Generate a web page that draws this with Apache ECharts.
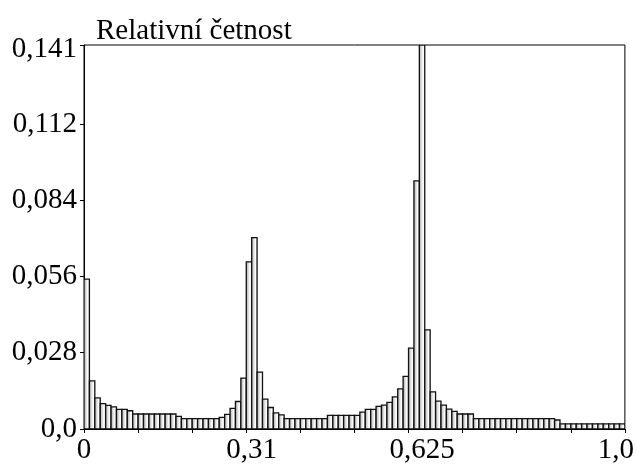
<!DOCTYPE html>
<html><head><meta charset="utf-8">
<style>html,body{margin:0;padding:0;background:#fff}#c{width:637px;height:465px}</style>
<script src="https://cdn.jsdelivr.net/npm/echarts@6/dist/echarts.min.js"></script>
</head><body><div id="c"></div>
<script>
// Relative frequency per bin (100 bins of width 0.01 on [0,1])
const binWidth = 0.01;
const relFreq = [
  0.0550, 0.0177, 0.0114, 0.0093, 0.0087, 0.0081, 0.0072, 0.0072, 0.0067, 0.0055,
  0.0055, 0.0055, 0.0055, 0.0055, 0.0055, 0.0055, 0.0055, 0.0046, 0.0038, 0.0038,
  0.0038, 0.0038, 0.0038, 0.0038, 0.0038, 0.0043, 0.0054, 0.0076, 0.0101, 0.0187,
  0.0614, 0.0703, 0.0209, 0.0110, 0.0079, 0.0059, 0.0052, 0.0038, 0.0038, 0.0038,
  0.0038, 0.0038, 0.0038, 0.0038, 0.0038, 0.0050, 0.0050, 0.0050, 0.0050, 0.0050,
  0.0050, 0.0062, 0.0072, 0.0072, 0.0083, 0.0088, 0.0098, 0.0118, 0.0147, 0.0193,
  0.0297, 0.0911, 0.1410, 0.0364, 0.0136, 0.0102, 0.0088, 0.0073, 0.0065, 0.0055,
  0.0055, 0.0055, 0.0038, 0.0038, 0.0038, 0.0038, 0.0038, 0.0038, 0.0038, 0.0038,
  0.0038, 0.0038, 0.0038, 0.0038, 0.0038, 0.0038, 0.0038, 0.0033, 0.0019, 0.0019,
  0.0019, 0.0019, 0.0019, 0.0019, 0.0019, 0.0019, 0.0019, 0.0019, 0.0019, 0.0019
];
const yTickValues = [0, 0.028, 0.056, 0.084, 0.112, 0.141];
const yTickLabels = ['0,0', '0,028', '0,056', '0,084', '0,112', '0,141'];
const xLabelValues = [0, 0.31, 0.625, 1.0];
const xLabelTexts = ['0', '0,31', '0,625', '1,0'];
const xTickValues = [0, 0.1, 0.2, 0.3, 0.4, 0.5, 0.6, 0.7, 0.8, 0.9, 1.0];
const yTitle = 'Relativní četnost';

const FONT = 'Liberation Serif';
const FS = 29;
function lookup(vals, texts, v) {
  for (let i = 0; i < vals.length; i++) if (Math.abs(vals[i] - v) < 1e-9) return texts[i];
  return '';
}
const data = relFreq.map((v, i) => [i * binWidth, (i + 1) * binWidth, v]);
const grad = new echarts.graphic.LinearGradient(0, 0, 1, 0, [
  { offset: 0, color: '#a0a0a0' },
  { offset: 0.65, color: '#ffffff' },
  { offset: 1, color: '#e0e0e0' }
]);

const chart = echarts.init(document.getElementById('c'), null, { renderer: 'canvas' });
chart.setOption({
  animation: false,
  backgroundColor: '#fff',
  title: {
    text: yTitle, left: 96, top: 17, padding: 0,
    textStyle: { fontFamily: FONT, fontSize: FS, fontWeight: 'normal', color: '#000' }
  },
  grid: { left: 84, right: 11, top: 45, bottom: 36, show: true, borderColor: '#000', borderWidth: 1, backgroundColor: 'transparent' },
  xAxis: {
    type: 'value', min: 0, max: 1, interval: 0.1,
    splitLine: { show: false },
    axisLine: { show: true, lineStyle: { color: '#000', width: 1 } },
    axisTick: { show: true, customValues: xTickValues, length: 4, lineStyle: { color: '#000' } },
    axisLabel: {
      customValues: xLabelValues, margin: 7,
      fontFamily: FONT, fontSize: FS, color: '#000',
      formatter: function (v) {
        const t = lookup(xLabelValues, xLabelTexts, v);
        return Math.abs(v - 1) < 1e-9 ? '{r|' + t + '}' : t;
      },
      rich: { r: { fontFamily: FONT, fontSize: FS, color: '#000', padding: [0, 18, 0, 0] } }
    }
  },
  yAxis: {
    type: 'value', min: 0, max: 0.141,
    splitLine: { show: false },
    axisLine: { show: true, lineStyle: { color: '#000', width: 1 } },
    axisTick: { show: true, customValues: yTickValues, length: 4, lineStyle: { color: '#000' } },
    axisLabel: {
      customValues: yTickValues, margin: 7,
      fontFamily: FONT, fontSize: FS, color: '#000',
      formatter: function (v) {
        const t = lookup(yTickValues, yTickLabels, v);
        return Math.abs(v - 0.141) < 1e-9 ? '{t|' + t + '}' : t;
      },
      rich: { t: { fontFamily: FONT, fontSize: FS, color: '#000', padding: [8, 0, 0, 0] } }
    }
  },
  series: [{
    type: 'custom',
    data: data,
    encode: { x: [0, 1], y: 2 },
    clip: true,
    renderItem: function (params, api) {
      const p0 = api.coord([api.value(0), 0]);
      const p1 = api.coord([api.value(1), api.value(2)]);
      return {
        type: 'rect',
        shape: { x: p0[0], y: p1[1], width: p1[0] - p0[0], height: p0[1] - p1[1] },
        style: { fill: grad, stroke: '#111', lineWidth: 1.3 }
      };
    }
  }]
});
</script>
</body></html>
